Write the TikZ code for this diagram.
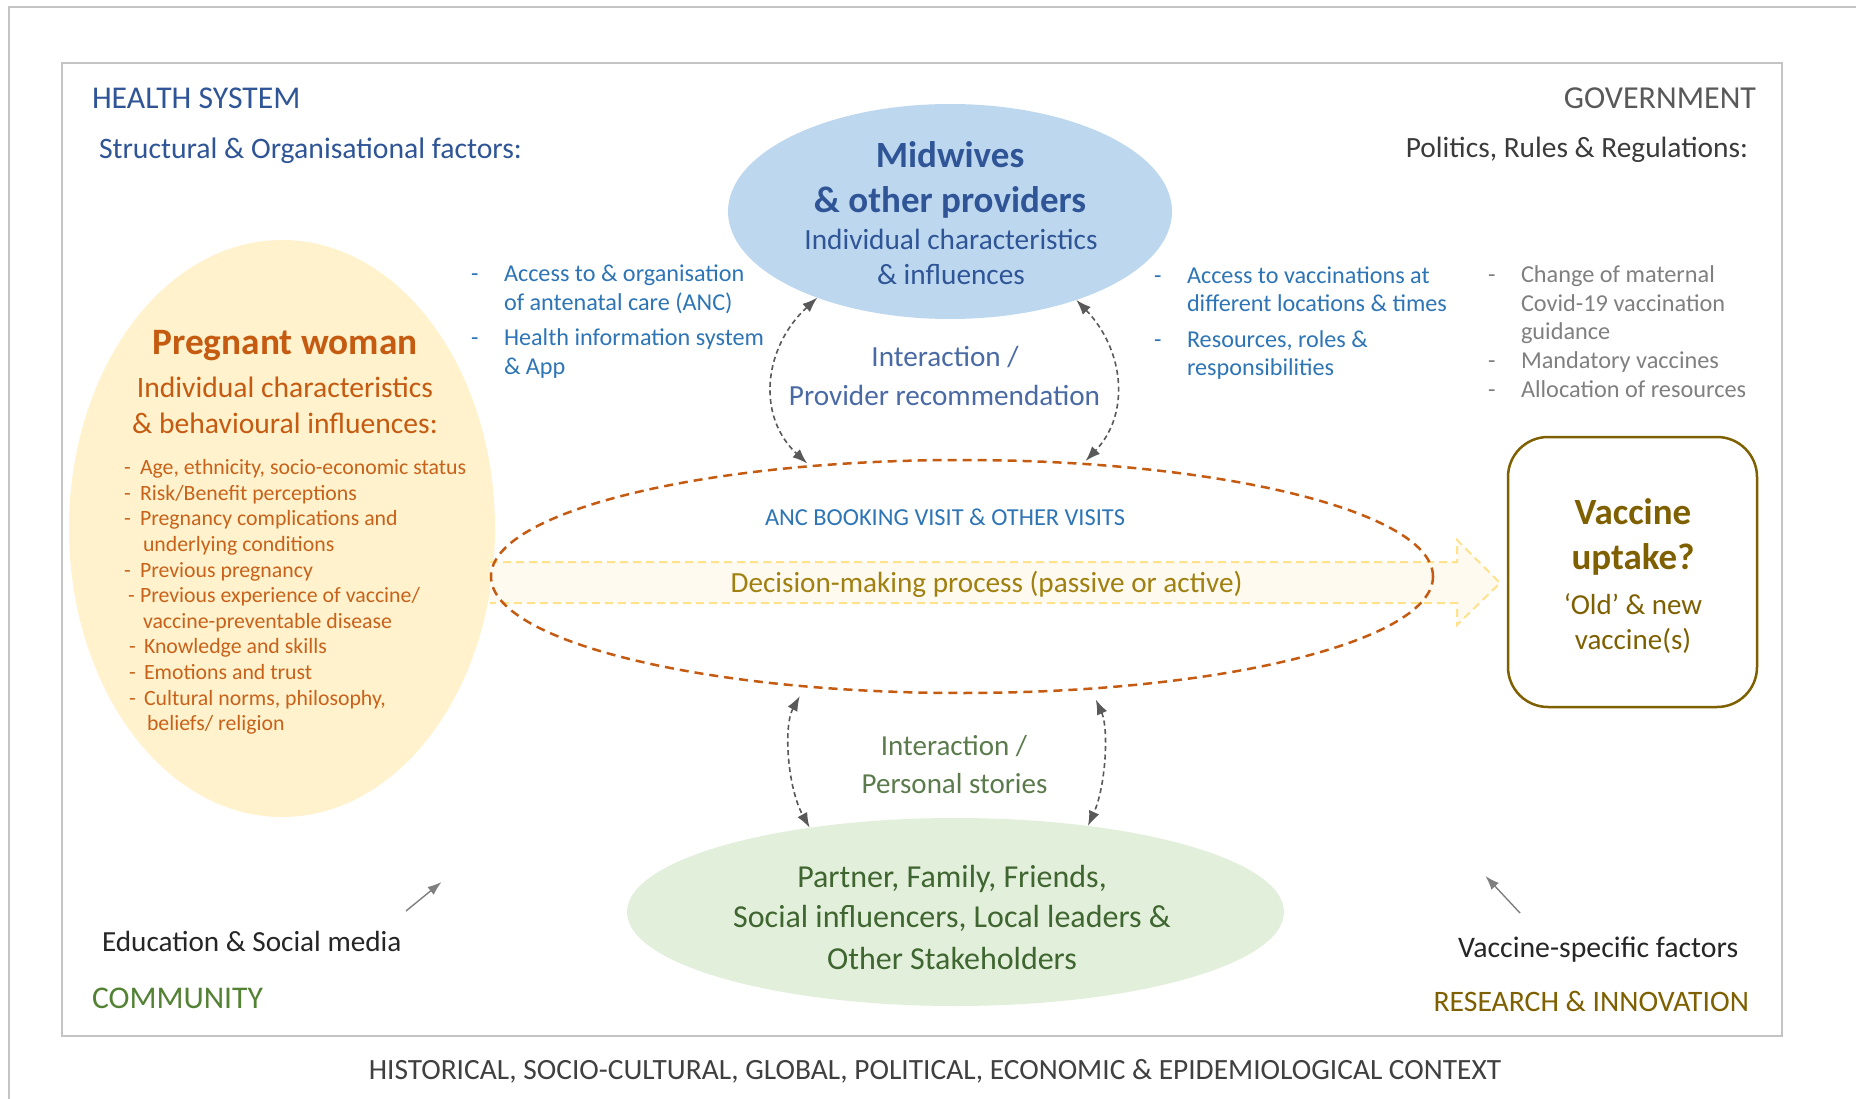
\documentclass[tikz,border=0pt]{standalone}
\usepackage{fontspec}
\setmainfont{Carlito}
\usetikzlibrary{arrows.meta,shapes.geometric}
\newcommand\Fsz[1]{\fontsize{#1}{#1}\selectfont}
\definecolor{framecol}{HTML}{C4C4C4}
\definecolor{hsblue}{HTML}{2F5597}
\definecolor{liblue}{HTML}{2E75B6}
\definecolor{intblue}{HTML}{4A6AA5}
\definecolor{govgray}{HTML}{595959}
\definecolor{poldark}{HTML}{3B3B3B}
\definecolor{lgray}{HTML}{808080}
\definecolor{orangeD}{HTML}{C55A11}
\definecolor{plistc}{HTML}{C8621A}
\definecolor{pregfill}{HTML}{FFF2CC}
\definecolor{mwfill}{HTML}{BDD7EE}
\definecolor{grfill}{HTML}{E2EFDA}
\definecolor{grtext}{HTML}{3F6630}
\definecolor{intgreen}{HTML}{5B7B4C}
\definecolor{comgreen}{HTML}{548235}
\definecolor{olivec}{HTML}{7F6000}
\definecolor{decol}{HTML}{A08010}
\definecolor{bandfill}{HTML}{FEFAF0}
\definecolor{bandline}{HTML}{FFE28A}
\definecolor{arrowgray}{HTML}{595959}
\definecolor{smallgray}{HTML}{7F7F7F}
\definecolor{ctxgray}{HTML}{404040}
\definecolor{blacktext}{HTML}{262626}
\tikzset{
  t/.style={inner sep=0pt, outer sep=0pt},
  blob/.style={ellipse, inner sep=0pt, outer sep=0pt},
  conn/.style={draw=arrowgray, line width=1.6pt, dash pattern=on 5pt off 3.5pt,
    arrows={Latex[length=15pt,width=11pt]-Latex[length=15pt,width=11pt]}},
  sarrow/.style={draw=smallgray, line width=1.4pt, -{Latex[length=14pt,width=10pt]}},
  plist/.style={t, anchor=base west, text=plistc, font=\Fsz{21.8}},
  blist/.style={t, anchor=base west, text=liblue, font=\Fsz{24.2}},
  glist/.style={t, anchor=base west, text=lgray, font=\Fsz{24.3}},
}
\begin{document}
\begin{tikzpicture}[x=1pt,y=-1pt]
\useasboundingbox (0,0) rectangle (1856,1099);
\fill[white] (0,0) rectangle (1856,1099);
% frames
\draw[framecol, line width=1.5pt] (9,1099) -- (9,7) -- (1856,7);
\draw[framecol, line width=1.5pt] (62,63) rectangle (1782,1036);

% filled ellipses
\node[blob, fill=pregfill, minimum width=426, minimum height=577] (pw) at (282,528.5) {};
\node[blob, fill=mwfill, minimum width=444, minimum height=215] (mw) at (950,211.5) {};
\node[blob, fill=grfill, minimum width=657, minimum height=188] (gr) at (955.5,912) {};

% decision band (block arrow)
\fill[bandfill] (490,562) -- (1457,562) -- (1457,540) -- (1500,583) -- (1457,625) -- (1457,603) -- (490,603) -- cycle;
\draw[bandline, line width=2pt, dash pattern=on 8pt off 5pt] (490,562) -- (1457,562) -- (1457,540) -- (1500,583) -- (1457,625) -- (1457,603) -- (490,603);

% dashed visit ellipse
\node[blob, draw=orangeD, line width=2.5pt, dash pattern=on 9pt off 6pt, minimum width=942, minimum height=233] (de) at (962,576.5) {};

% vaccine box
\node[draw=olivec, line width=2.5pt, rounded corners=40pt, minimum width=249, minimum height=270, inner sep=0pt] (vb) at (1632.5,572) {};

% headings
\node[t, anchor=base west, text=hsblue, font=\Fsz{31.7}] (hs) at (92,108.5) {HEALTH SYSTEM};
\node[t, anchor=base west, text=hsblue, font=\Fsz{29.7}] (sof) at (99,158.5) {Structural \& Organisational factors:};
\node[t, anchor=base east, text=govgray, font=\Fsz{32}] (gov) at (1756,108.5) {GOVERNMENT};
\node[t, anchor=base east, text=poldark, font=\Fsz{29.4}] (prr) at (1748,157.5) {Politics, Rules \& Regulations:};

% midwives
\node[t, anchor=base, text=hsblue, font=\Fsz{37}\bfseries] (mw1) at (950,167.5) {Midwives};
\node[t, anchor=base, text=hsblue, font=\Fsz{37}\bfseries] (mw2) at (950,212.5) {\& other providers};
\node[t, anchor=base, text=hsblue, font=\Fsz{29.3}] (mw3) at (951,249.5) {Individual characteristics};
\node[t, anchor=base, text=hsblue, font=\Fsz{29.3}] (mw4) at (951,284.5) {\& influences};

% health system list
\node[blist] (bd1) at (471,281.5) {-};
\node[blist] (bl1) at (504,281.5) {Access to \& organisation};
\node[blist] (bl2) at (504,310.5) {of antenatal care (ANC)};
\node[blist] (bd2) at (471,345.5) {-};
\node[blist] (bl3) at (504,345.5) {Health information system};
\node[blist] (bl4) at (504,374.5) {\& App};

\node[blist] (bd3) at (1154,284) {-};
\node[blist] (br1) at (1187,284) {Access to vaccinations at};
\node[blist] (br2) at (1187,312) {different locations \& times};
\node[blist] (bd4) at (1154,348) {-};
\node[blist] (br3) at (1187,348) {Resources, roles \&};
\node[blist] (br4) at (1187,376) {responsibilities};

% government list
\node[glist] (gd1) at (1488,282.5) {-};
\node[glist] (gl1) at (1521,282.5) {Change of maternal};
\node[glist] (gl2) at (1521,311.5) {Covid-19 vaccination};
\node[glist] (gl3) at (1521,339.5) {guidance};
\node[glist] (gd2) at (1488,368.5) {-};
\node[glist] (gl4) at (1521,368.5) {Mandatory vaccines};
\node[glist] (gd3) at (1488,397.5) {-};
\node[glist] (gl5) at (1521,397.5) {Allocation of resources};

% pregnant woman
\node[t, anchor=base, text=orangeD, font=\Fsz{37.3}\bfseries] (pw1) at (285,354.5) {Pregnant woman};
\node[t, anchor=base, text=orangeD, font=\Fsz{29.6}] (pw2) at (285,397.5) {Individual characteristics};
\node[t, anchor=base, text=orangeD, font=\Fsz{29.6}] (pw3) at (285,433.5) {\& behavioural influences:};

\node[plist] (pd1) at (124,474) {-};
\node[plist] (pl1) at (140,474) {Age, ethnicity, socio-economic status};
\node[plist] (pd2) at (124,500) {-};
\node[plist] (pl2) at (140,500) {Risk/Benefit perceptions};
\node[plist] (pd3) at (124,525) {-};
\node[plist] (pl3) at (140,525) {Pregnancy complications and};
\node[plist] (pl4) at (143,551) {underlying conditions};
\node[plist] (pd5) at (124,577) {-};
\node[plist] (pl5) at (140,577) {Previous pregnancy};
\node[plist] (pd6) at (128,602) {-};
\node[plist] (pl6) at (140,602) {Previous experience of vaccine/};
\node[plist] (pl7) at (143,628) {vaccine-preventable disease};
\node[plist] (pd8) at (129,653) {-};
\node[plist] (pl8) at (144,653) {Knowledge and skills};
\node[plist] (pd9) at (129,679) {-};
\node[plist] (pl9) at (144,679) {Emotions and trust};
\node[plist] (pd10) at (129,705) {-};
\node[plist] (pl10) at (144,705) {Cultural norms, philosophy,};
\node[plist] (pl11) at (147,730) {beliefs/ religion};

% centre texts
\node[t, anchor=base, text=liblue, font=\Fsz{24.4}] (anc) at (945,525.5) {ANC BOOKING VISIT \& OTHER VISITS};
\node[t, anchor=base, text=decol, font=\Fsz{29.2}] (dm) at (986.5,592.5) {Decision-making process (passive or active)};

\node[t, anchor=base, text=intblue, font=\Fsz{29.2}] (iu1) at (945,366.5) {Interaction /};
\node[t, anchor=base, text=intblue, font=\Fsz{29.2}] (iu2) at (944.5,405.5) {Provider recommendation};
\node[t, anchor=base, text=intgreen, font=\Fsz{29}] (il1) at (954,755.5) {Interaction /};
\node[t, anchor=base, text=intgreen, font=\Fsz{29}] (il2) at (954.5,793.5) {Personal stories};

% vaccine uptake
\node[t, anchor=base, text=olivec, font=\Fsz{37}\bfseries] (vu1) at (1633,524) {Vaccine};
\node[t, anchor=base, text=olivec, font=\Fsz{37}\bfseries] (vu2) at (1633,569.5) {uptake?};
\node[t, anchor=base, text=olivec, font=\Fsz{29}] (vu3) at (1633,614.5) {‘Old’ \& new};
\node[t, anchor=base, text=olivec, font=\Fsz{29}] (vu4) at (1633,649.5) {vaccine(s)};

% community
\node[t, anchor=base, text=grtext, font=\Fsz{32}] (g1) at (952,887.5) {Partner, Family, Friends,};
\node[t, anchor=base, text=grtext, font=\Fsz{32}] (g2) at (952,927.5) {Social influencers, Local leaders \&};
\node[t, anchor=base, text=grtext, font=\Fsz{32}] (g3) at (952,969.5) {Other Stakeholders};

\node[t, anchor=base west, text=blacktext, font=\Fsz{29.2}] (edu) at (102,951.5) {Education \& Social media};
\node[t, anchor=base west, text=comgreen, font=\Fsz{31.6}] (com) at (92,1008.5) {COMMUNITY};
\node[t, anchor=base west, text=blacktext, font=\Fsz{29.8}] (vsf) at (1458,957) {Vaccine-specific factors};
\node[t, anchor=base east, text=olivec, font=\Fsz{29.7}] (ri) at (1749,1011) {RESEARCH \& INNOVATION};
\node[t, anchor=base, text=ctxgray, font=\Fsz{29.4}] (ctx) at (935,1079.5) {HISTORICAL, SOCIO-CULTURAL, GLOBAL, POLITICAL, ECONOMIC \& EPIDEMIOLOGICAL CONTEXT};

% interaction arrows
\draw[conn, shorten >=4pt] (mw.213) .. controls +(-54,50) and +(-54,-50) .. (de.144);
\draw[conn, shorten >=4pt] (mw.325) .. controls +(48,50) and +(48,-50) .. (de.43.5);
\draw[conn, shorten <=11pt] (de.215.5) .. controls +(-22,40) and +(-22,-40) .. (gr.150.2);
\draw[conn, shorten <=12pt] (de.319) .. controls +(18,40) and +(18,-40) .. (gr.33.5);

% small influence arrows
\coordinate (ea1) at (406,911);
\coordinate (ea2) at (441.5,882);
\coordinate (va1) at (1520,913);
\coordinate (va2) at (1485.5,876);
\draw[sarrow] (ea1) -- (ea2);
\draw[sarrow] (va1) -- (va2);
\end{tikzpicture}
\end{document}
